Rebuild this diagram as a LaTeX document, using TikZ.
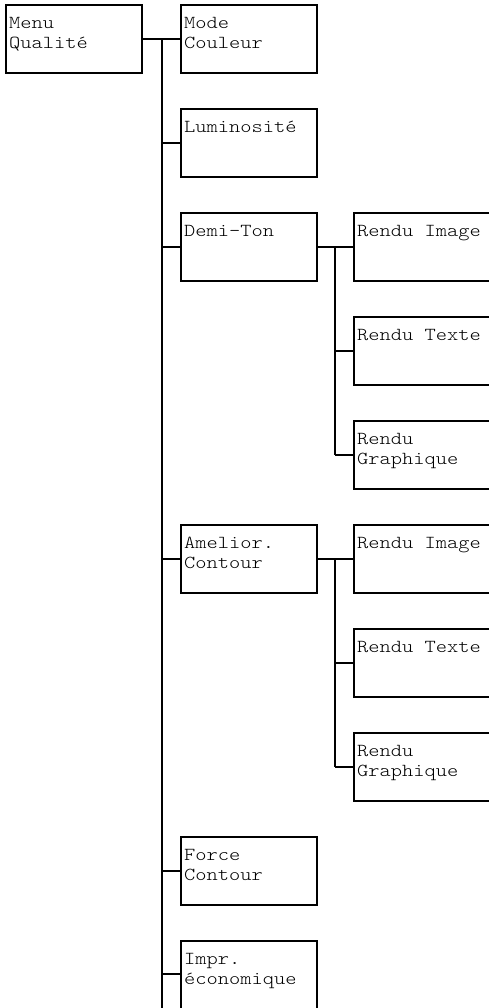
\documentclass[tikz,border=0pt]{standalone}
\usepackage{fontspec}
\newfontfamily\monofam{lmmonolt10-regular.otf}[FakeStretch=1.17]
\begin{document}
\begin{tikzpicture}[x=1pt,y=-1pt,
  box/.style={draw, line width=2pt, minimum width=136pt, minimum height=68pt, anchor=north west, inner sep=0pt},
  widebox/.style={box, minimum width=142pt},
  lbl/.style={anchor=north west, inner sep=0pt, align=left, text=black,
    font=\monofam\fontsize{18.3pt}{20.5pt}\selectfont},
  wire/.style={line width=2pt}]
\useasboundingbox (0,0) rectangle (489,1008);
\clip (0,0) rectangle (489,1008);
% boxes
\node[box] (menu) at (5,4) {};
\node[box] (mode) at (180,4) {};
\node[box] (lum) at (180,108) {};
\node[box] (demi) at (180,212) {};
\node[box] (amel) at (180,524) {};
\node[box] (force) at (180,836) {};
\node[box, minimum height=74pt] (impr) at (180,940) {};
\node[widebox] (dimg) at (353,212) {};
\node[widebox] (dtxt) at (353,316) {};
\node[widebox] (dgra) at (353,420) {};
\node[widebox] (aimg) at (353,524) {};
\node[widebox] (atxt) at (353,628) {};
\node[widebox] (agra) at (353,732) {};
% labels
\newcommand\boxlabel[2]{\node[lbl] (#1-t) at ([shift={(4pt,-8pt)}]#1.north west) {\rule{0pt}{16pt}#2};}
\boxlabel{menu}{Menu\\Qualité}
\boxlabel{mode}{Mode\\Couleur}
\boxlabel{lum}{Luminosité}
\boxlabel{demi}{Demi-Ton}
\boxlabel{amel}{Amelior.\\Contour}
\boxlabel{force}{Force\\Contour}
\boxlabel{impr}{Impr.\\économique}
\boxlabel{dimg}{Rendu Image}
\boxlabel{dtxt}{Rendu Texte}
\boxlabel{dgra}{Rendu\\Graphique}
\boxlabel{aimg}{Rendu Image}
\boxlabel{atxt}{Rendu Texte}
\boxlabel{agra}{Rendu\\Graphique}
% connectors
\coordinate (tr) at (162,0);
\coordinate (trend) at (162,1012);
\coordinate (st) at (335,0);
\draw[wire] (menu.east) -- (mode.west);
\draw[wire] (tr |- menu.east) -- (trend);
\foreach \n in {lum,demi,amel,force} \draw[wire] (tr |- \n.west) -- (\n.west);
\draw[wire] (tr |- 0,974) -- (180,974);
\draw[wire] (demi.east) -- (dimg.west);
\draw[wire] (st |- demi.east) -- (st |- dgra.west);
\draw[wire] (st |- dtxt.west) -- (dtxt.west);
\draw[wire] (st |- dgra.west) -- (dgra.west);
\draw[wire] (amel.east) -- (aimg.west);
\draw[wire] (st |- amel.east) -- (st |- agra.west);
\draw[wire] (st |- atxt.west) -- (atxt.west);
\draw[wire] (st |- agra.west) -- (agra.west);
\end{tikzpicture}
\end{document}
